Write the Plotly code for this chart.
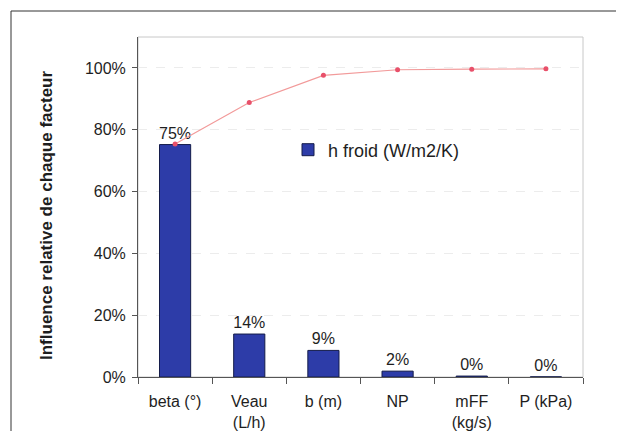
import plotly.graph_objects as go

categories = ["beta (°)", "Veau<br>(L/h)", "b (m)", "NP", "mFF<br>(kg/s)", "P (kPa)"]
influence = [0.752, 0.139, 0.086, 0.019, 0.003, 0.0005]
cumulative = [0.754, 0.888, 0.976, 0.994, 0.996, 0.997]
series_name = "h froid (W/m2/K)"
y_ticks = [0, 0.2, 0.4, 0.6, 0.8, 1.0]
y_tick_labels = ["0%", "20%", "40%", "60%", "80%", "100%"]

OFF = 8  # page body margin
W, H = 624 - OFF, 431 - OFF
ml, mr, mt, mb = 138 - OFF, 41, 37 - OFF, 54
pw, ph = W - ml - mr, H - mt - mb

def px_x(x):
    return (x - OFF - ml) / pw

def px_y(y):
    return 1 - (y - OFF - mt) / ph

font = "Liberation Sans, Arial, sans-serif"
txt = "#1e1e1e"

fig = go.Figure()
fig.add_trace(go.Bar(
    x=categories, y=influence, name=series_name,
    marker=dict(color="#2d3ca8", line=dict(color="#141c4a", width=1)),
    texttemplate="%{y:.0%}", textposition="outside", constraintext="none",
    textfont=dict(family=font, size=16, color=txt),
    cliponaxis=False,
))
fig.add_trace(go.Scatter(
    x=categories, y=cumulative, mode="lines+markers", showlegend=False,
    line=dict(color="#f29a9a", width=1.2),
    marker=dict(color="#e8506a", size=5),
))

fig.update_layout(
    width=W, height=H,
    margin=dict(l=ml, r=mr, t=mt, b=mb, autoexpand=False),
    paper_bgcolor="white", plot_bgcolor="white",
    bargap=0.58,
    font=dict(family=font, size=16, color=txt),
    showlegend=True,
    legend=dict(x=px_x(288), y=px_y(150), xanchor="left", yanchor="middle",
                bgcolor="rgba(0,0,0,0)", font=dict(size=18, family=font, color=txt),
                itemwidth=30, tracegroupgap=0),
    xaxis=dict(
        showgrid=False, ticks="outside", tickson="boundaries", ticklen=6,
        tickcolor="#555", showline=True, linecolor="#555", linewidth=1,
        tickfont=dict(size=16, family=font, color=txt),
        ticklabelstandoff=10, automargin=False,
    ),
    yaxis=dict(
        range=[0, 1.1], tickvals=y_ticks, ticktext=y_tick_labels,
        ticks="outside", ticklen=5, tickcolor="#555",
        showline=True, linecolor="#555", linewidth=1,
        showgrid=True, gridcolor="#ececec", griddash="dash", gridwidth=1,
        zeroline=False, ticklabelstandoff=3, automargin=False,
        tickfont=dict(size=16, family=font, color=txt),
    ),
    annotations=[dict(
        text="<b>Influence relative de chaque facteur</b>",
        x=px_x(46), y=px_y(216), xref="paper", yref="paper",
        xanchor="center", yanchor="middle",
        textangle=-90, showarrow=False,
        font=dict(size=17, family=font, color=txt),
    )],
    shapes=[
        dict(type="rect", xref="paper", yref="paper", x0=0, x1=1, y0=0, y1=1,
             line=dict(color="#c8c8c8", width=1), layer="below"),
        dict(type="rect", xref="paper", yref="paper",
             x0=px_x(11), x1=px_x(640), y0=px_y(445), y1=px_y(11),
             line=dict(color="#333", width=1)),
    ],
)

fig.write_html("out.html")
